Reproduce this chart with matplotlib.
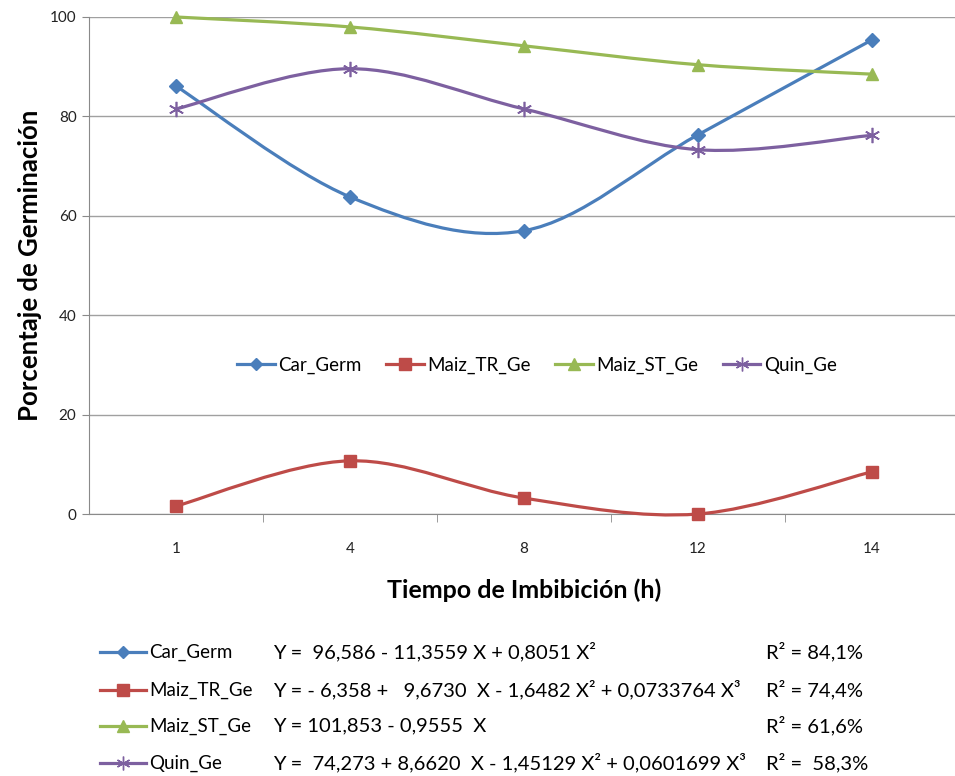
import numpy as np
import matplotlib
matplotlib.use("Agg")
from matplotlib import pyplot as plt
from matplotlib.path import Path
from matplotlib.patches import PathPatch
from matplotlib.lines import Line2D

plt.rcParams['font.family'] = ['Lato', 'DejaVu Sans']

# data
horas = ["1", "4", "8", "12", "14"]
car_germ = [86.1, 63.8, 57.0, 76.3, 95.4]
maiz_tr = [1.6, 10.7, 3.2, 0.0, 8.5]
maiz_st = [100.0, 98.0, 94.2, 90.4, 88.5]
quin = [81.5, 89.6, 81.5, 73.3, 76.2]

nombres = ["Car_Germ", "Maiz_TR_Ge", "Maiz_ST_Ge", "Quin_Ge"]
series = [car_germ, maiz_tr, maiz_st, quin]
colores = ["#4A7EBB", "#BE4B48", "#98B954", "#7D60A0"]
marcadores = ["D", "s", "^", (6, 2, 0)]
tam_marc = [7, 9, 9, 11]

ecuaciones = ["Y =  96,586 - 11,3559 X + 0,8051 X²",
              "Y = - 6,358 +   9,6730  X - 1,6482 X² + 0,0733764 X³",
              "Y = 101,853 - 0,9555  X",
              "Y =  74,273 + 8,6620  X - 1,45129 X² + 0,0601699 X³"]
r2 = ["R² = 84,1%", "R² = 74,4%", "R² = 61,6%", "R² =  58,3%"]


def curva_suave(xs, ys):
    # Catmull-Rom style bezier, like excel smoothed lines
    pts = np.column_stack([xs, ys]).astype(float)
    n = len(pts)
    verts = [pts[0]]
    codes = [Path.MOVETO]
    for i in range(n - 1):
        p0 = pts[max(i - 1, 0)]
        p1 = pts[i]
        p2 = pts[i + 1]
        p3 = pts[min(i + 2, n - 1)]
        c1 = p1 + (p2 - p0) / 6.0
        c2 = p2 - (p3 - p1) / 6.0
        verts += [c1, c2, p2]
        codes += [Path.CURVE4] * 3
    return Path(verts, codes)


fig = plt.figure(figsize=(9.55, 7.76), dpi=100)
ax = fig.add_axes([89 / 955, 1 - 514 / 776, 870 / 955, 497 / 776])

x = np.arange(len(horas))
for ys, col, mk, ms in zip(series, colores, marcadores, tam_marc):
    ax.add_patch(PathPatch(curva_suave(x, ys), fill=False, edgecolor=col,
                           lw=2.3, capstyle='round', clip_on=False, zorder=3))
    mew = 1.2 if mk == (6, 2, 0) else 1
    ax.plot(x, ys, linestyle='none', marker=mk, markersize=ms, color=col,
            markeredgewidth=mew, clip_on=False, zorder=4)

ax.set_xlim(-0.5, len(horas) - 0.5)
ax.set_ylim(0, 100)
ax.set_yticks(np.arange(0, 101, 20))
ax.set_xticks(x)
ax.set_xticklabels(horas, fontsize=11, color="#222222")
ax.set_xticks(np.arange(0.5, len(horas) - 1, 1), minor=True)
ax.tick_params(axis='x', which='major', length=0, pad=20)
ax.tick_params(axis='x', which='minor', length=6, color="#8a8a8a")
ax.tick_params(axis='y', length=5, color="#8a8a8a", labelsize=11,
               labelcolor="#222222", pad=4)
ax.grid(axis='y', color="#a0a0a0", lw=1)
ax.set_axisbelow(True)
for lado in ['top', 'right']:
    ax.spines[lado].set_visible(False)
for lado in ['left', 'bottom']:
    ax.spines[lado].set_color("#8a8a8a")

ax.set_ylabel("Porcentaje de Germinación", fontsize=18.5, fontweight='bold',
              labelpad=6)
ax.set_xlabel("Tiempo de Imbibición (h)", fontsize=18, fontweight='bold',
              labelpad=16)

manijas = [Line2D([], [], color=c, lw=2.3, marker=m, markersize=s * 0.9)
           for c, m, s in zip(colores, marcadores, tam_marc)]
ax.legend(manijas, nombres, loc='center', bbox_to_anchor=(0.515, 0.30),
          ncol=4, frameon=False, fontsize=13.5, handlelength=2.0,
          handletextpad=0.2, columnspacing=1.3)

# tabla de ecuaciones debajo del grafico
filas_y = [652, 690, 726, 763]
for nom, col, mk, s, ec, r, py in zip(nombres, colores, marcadores, tam_marc,
                                       ecuaciones, r2, filas_y):
    yf = 1 - py / 776
    fig.add_artist(Line2D([100 / 955, 146 / 955], [yf, yf], color=col, lw=2.3,
                          transform=fig.transFigure))
    fig.add_artist(Line2D([123 / 955], [yf], color=col, marker=mk,
                          markersize=s * 0.9, transform=fig.transFigure))
    fig.text(149 / 955, yf, nom, fontsize=13.5, va='center', ha='left')
    fig.text(273 / 955, yf, ec, fontsize=14.5, va='center', ha='left')
    fig.text(766 / 955, yf, r, fontsize=14.5, va='center', ha='left')

plt.savefig("out.png", dpi=100)
